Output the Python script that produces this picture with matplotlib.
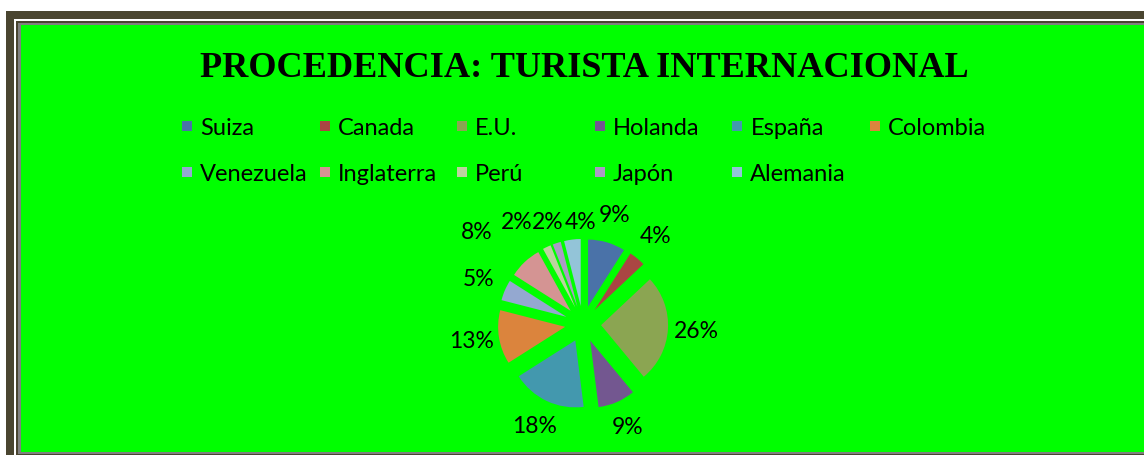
import matplotlib.pyplot as plt
from matplotlib.patches import Rectangle

paises = ['Suiza', 'Canada', 'E.U.', 'Holanda', 'España', 'Colombia',
          'Venezuela', 'Inglaterra', 'Perú', 'Japón', 'Alemania']
porcentajes = [9, 4, 26, 9, 18, 13, 5, 8, 2, 2, 4]
colores = ['#4A72A8', '#AA4643', '#8BA552', '#735790', '#4398AE', '#DB843D',
           '#94A8D0', '#D49493', '#BCD39E', '#AA9BC4', '#93C4D8']

W, H = 1144, 455
fig = plt.figure(figsize=(W / 100, H / 100), dpi=100, facecolor='white')

# capa de fondo en pixeles (marco + titulo + leyenda)
fondo = fig.add_axes([0, 0, 1, 1])
fondo.set_xlim(0, W)
fondo.set_ylim(H, 0)
fondo.axis('off')

fondo.add_patch(Rectangle((6, 11), W, H, color='#4A4530', lw=0))
fondo.add_patch(Rectangle((14, 19), W, H, color='white', lw=0))
fondo.add_patch(Rectangle((16, 21), W, H, color='#4A4530', lw=0))
fondo.add_patch(Rectangle((18, 23), W, 431, color='#808080', lw=0))
fondo.add_patch(Rectangle((21, 25), W, 427, color='#00FF00', lw=0))

fondo.text(584, 77, 'PROCEDENCIA: TURISTA INTERNACIONAL', ha='center', va='baseline',
           fontfamily='Liberation Serif', fontweight='bold', fontsize=26.1)

# leyenda en rejilla de 6 columnas
for i, (p, c) in enumerate(zip(paises, colores)):
    col, fila = i % 6, i // 6
    x = 182 + col * 137.6
    y = 121 + fila * 46
    fondo.add_patch(Rectangle((x, y), 10, 10, color=c, lw=0))
    fondo.text(x + 18, y + 14, p, fontfamily='Lato', fontsize=17, va='baseline')

# pastel
cx, cy, r = 583, 324, 67
L = 1.95
lado = 2 * L * r
ax = fig.add_axes([(cx - lado / 2) / W, (H - cy - lado / 2) / H, lado / W, lado / H])
cunas, etiquetas, textos = ax.pie(porcentajes, colors=colores, explode=[0.27] * len(porcentajes),
                                  startangle=90, counterclock=False,
                                  autopct=lambda v: '%.0f%%' % v, pctdistance=1.42,
                                  wedgeprops={'linewidth': 0},
                                  textprops={'fontfamily': 'Lato', 'fontsize': 16.5})
ax.set_xlim(-L, L)
ax.set_ylim(-L, L)

# Excel separa las etiquetas pequeñas de arriba
textos[7].set_position((-1.58, 1.36))
textos[8].set_position((-0.99, 1.52))
textos[9].set_position((-0.52, 1.52))
textos[10].set_position((-0.04, 1.52))

fig.savefig('out.png', dpi=100, facecolor=fig.get_facecolor())
